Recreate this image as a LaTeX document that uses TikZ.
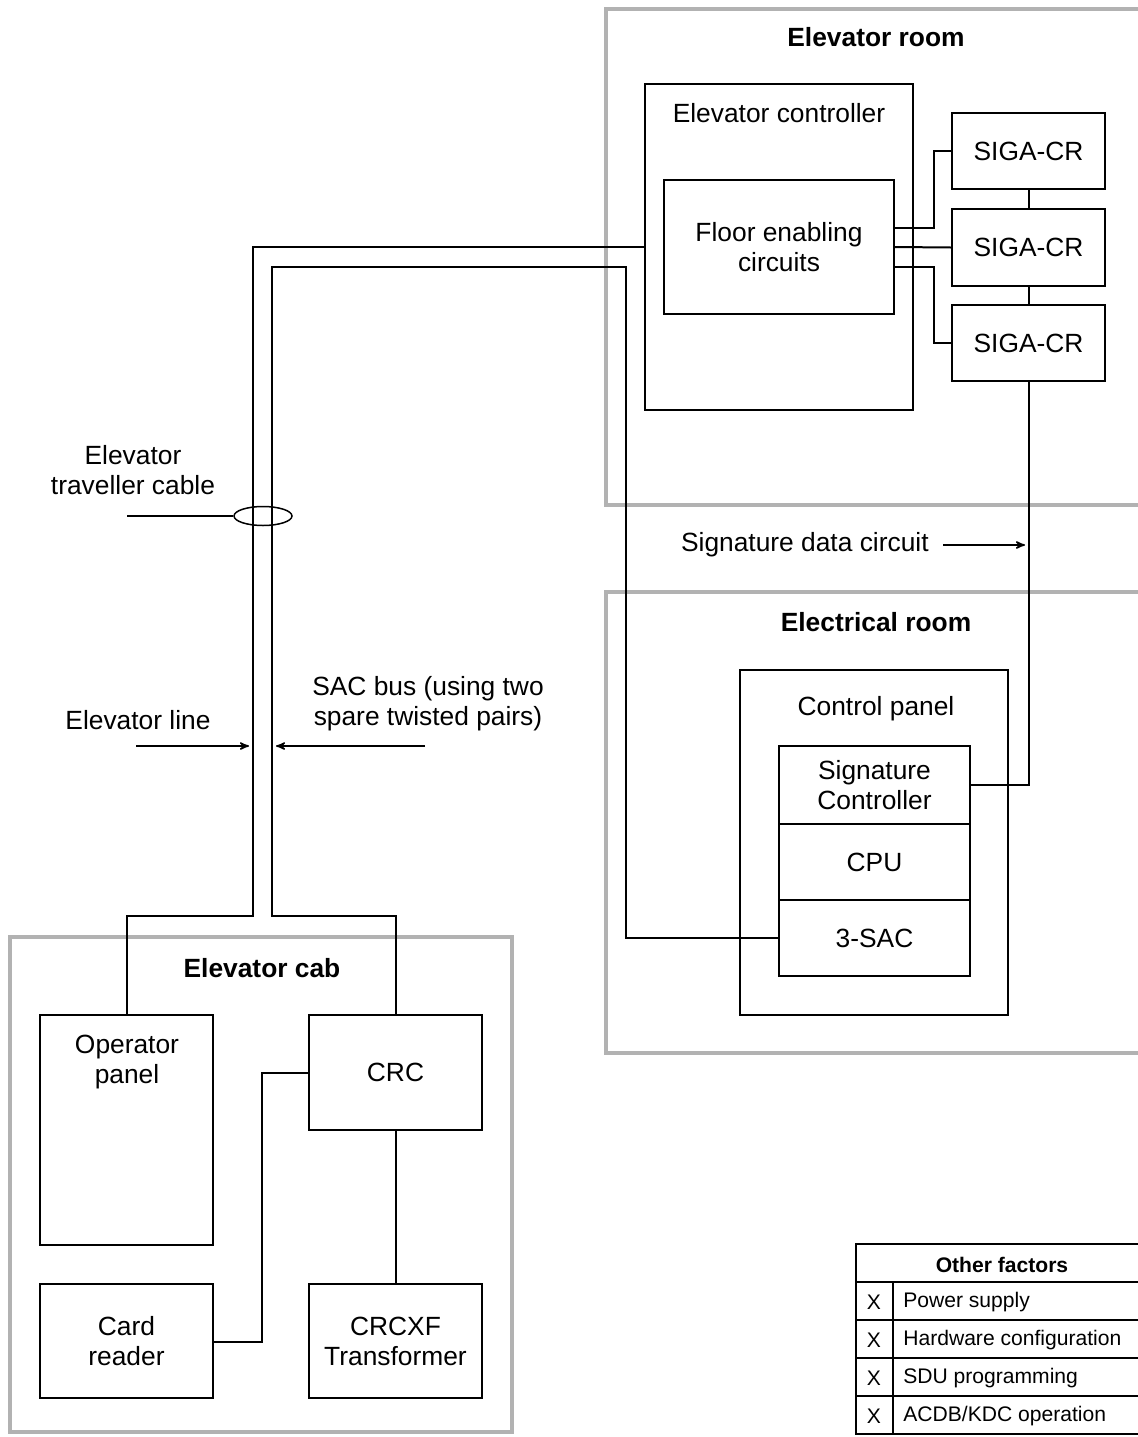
\documentclass[tikz,border=0pt]{standalone}
\usepackage{fontspec}
\setmainfont{Liberation Sans}
\usetikzlibrary{arrows,fit,shapes.geometric}

\definecolor{roomgray}{RGB}{178,178,178}

\tikzset{
  room/.style={draw=roomgray, line width=0.08cm, inner sep=0pt},
  box/.style={draw, line width=0.04cm, inner sep=0pt},
  wire/.style={line width=0.04cm},
  thinwire/.style={line width=0.03cm},
  lbl/.style={inner sep=0pt, align=center},
  title/.style={lbl, font=\fontsize{15}{17}\selectfont\bfseries},
  small/.style={inner sep=0pt, font=\fontsize{12}{14}\selectfont},
}

\begin{document}
\begin{tikzpicture}[x=0.02cm, y=-0.02cm, font=\fontsize{15}{17}\selectfont]
   \useasboundingbox (0,0) rectangle (1138,1437);
   \clip (0,0) rectangle (1138,1437);
   % rooms
   \node[room, fit={(606,9) (1170,505)}] (elevroom) {};
   \node[title] (elevroomtxt) at (876,37) {Elevator room};
   \node[room, fit={(606,592) (1170,1053)}] (elecroom) {};
   \node[title] (elecroomtxt) at (876,622) {Electrical room};
   \node[room, fit={(10,937) (512,1432)}] (cab) {};
   \node[title] (cabtxt) at (262,968) {Elevator cab};

   % elevator room
   \node[box, fit={(645,84) (913,410)}] (ctrl) {};
   \node[lbl] (ctrltxt) at (779,113) {Elevator controller};
   \node[box, fit={(664,180) (894,314)}] (floor) {};
   \node[lbl] (floortxt) at (floor) {Floor enabling\\circuits};
   \node[box, fit={(952,113) (1105,189)}] (siga1) {};
   \node[box, fit={(952,209) (1105,286)}] (siga2) {};
   \node[box, fit={(952,305) (1105,381)}] (siga3) {};
   \foreach \s in {1,2,3}
     \node[lbl] (siga\s txt) at (siga\s) {SIGA-CR};
   \draw[wire] ([yshift=0.38cm]floor.east) -- ++(39,0) |- (siga1.west);
   \draw[wire] (floor.east) -- (siga2.west);
   \draw[wire] ([yshift=-0.4cm]floor.east) -- ++(39,0) |- (siga3.west);
   \draw[wire] (siga1.south) -- (siga2.north);
   \draw[wire] (siga2.south) -- (siga3.north);

   % electrical room
   \node[box, fit={(740,670) (1008,1015)}] (panel) {};
   \node[lbl] (paneltxt) at (876,709) {Control panel};
   \node[box, fit={(779,746) (970,824)}] (sigctl) {};
   \node[lbl] (sigctltxt) at (sigctl) {Signature\\Controller};
   \node[box, fit={(779,824) (970,900)}] (cpu) {};
   \node[lbl] (cputxt) at (cpu) {CPU};
   \node[box, fit={(779,900) (970,976)}] (sac) {};
   \node[lbl] (sactxt) at (sac) {3-SAC};
   \draw[wire] (siga3.south) |- (sigctl.east);
   \node[lbl, anchor=east] (sdctxt) at (929,545) {Signature data circuit};
   \coordinate (sdcend) at (1025,545);
   \draw[thinwire,-stealth'] ([xshift=0.28cm]sdctxt.east) -- (sdcend);

   % elevator cab
   \node[box, fit={(40,1015) (213,1245)}] (oppanel) {};
   \node[lbl] (oppaneltxt) at (127,1062) {Operator\\panel};
   \node[box, fit={(309,1015) (482,1130)}] (crc) {};
   \node[lbl] (crctxt) at (crc) {CRC};
   \node[box, fit={(40,1284) (213,1398)}] (card) {};
   \node[lbl] (cardtxt) at (card) {Card\\reader};
   \node[box, fit={(309,1284) (482,1398)}] (crcxf) {};
   \node[lbl] (crcxftxt) at (crcxf) {CRCXF\\Transformer};
   \coordinate (cardjog) at (262,1342);
   \draw[wire] (crc.west) -| (cardjog) -- (card.east |- cardjog);
   \draw[wire] (crc.south) -- (crcxf.north);

   % traveller cable: elevator line and SAC bus
   \coordinate (elA) at (253,916);
   \coordinate (sacA) at (626,267);
   \coordinate (sacB) at (272,916);
   \draw[wire] (ctrl.west) -| (elA) -| (oppanel.north);
   \draw[wire] (sac.west) -| (sacA) -| (sacB) -| (crc.north);
   \node[draw, thinwire, ellipse, minimum width=1.16cm, minimum height=0.38cm,
         inner sep=0pt] (cable) at (263,516) {};
   \coordinate (cablestart) at (127,516);
   \draw[thinwire] (cablestart) -- (cable.west);
   \node[lbl] (cabletxt) at (133,470) {Elevator\\traveller cable};
   \node[lbl] (eltxt) at (138,720) {Elevator line};
   \coordinate (elarrow) at (136,746);
   \draw[thinwire,-stealth'] (elarrow) -- (249,746);
   \node[lbl] (sacbustxt) at (428,704) {SAC bus (using two\\spare twisted pairs)};
   \coordinate (sacarrow) at (425,746);
   \draw[thinwire,-stealth'] (sacarrow) -- (276,746);

   % other factors
   \draw[wire] (856,1244) rectangle (1170,1434);
   \foreach \r in {1282,1320,1358,1396}
     \draw[wire] (856,\r) -- (1170,\r);
   \draw[wire] (893,1282) -- (893,1434);
   \node[small, font=\fontsize{12}{14}\selectfont\bfseries] (facttitle) at (1002,1265) {Other factors};
   \foreach \t [count=\i] in {Power supply, Hardware configuration, SDU programming, ACDB/KDC operation}
   {
     \node[small] (x\i) at (874,{1302+38*(\i-1)}) {X};
     \node[small, anchor=west] (fact\i) at (903,{1302+38*(\i-1)}) {\t};
   }
\end{tikzpicture}
\end{document}
